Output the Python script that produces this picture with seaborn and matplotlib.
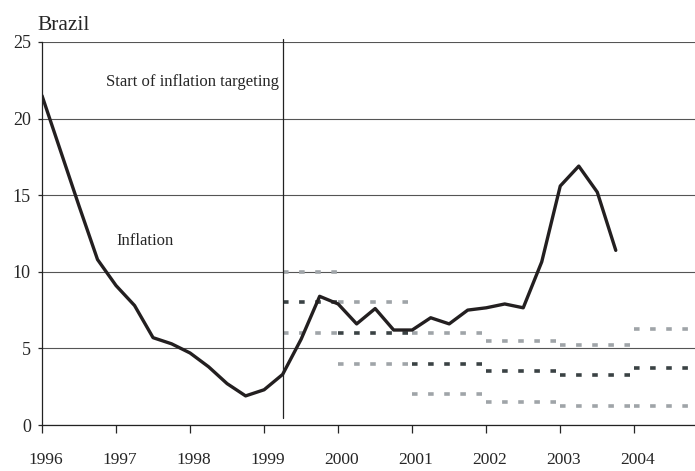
import matplotlib
matplotlib.use("Agg")
import matplotlib.pyplot as plt
import matplotlib.transforms as mtransforms
import seaborn as sns
import numpy as np
import pandas as pd

# quarterly inflation (12-month, %), 1996Q1 .. 2003Q4
quarters = np.arange(32) * 0.25 + 1996.0
inflation = [21.5, 17.9, 14.3, 10.8, 9.1, 7.8, 5.7, 5.3,
             4.7, 3.8, 2.7, 1.9, 2.3, 3.3, 5.6, 8.4,
             7.9, 6.6, 7.6, 6.2, 6.2, 7.0, 6.6, 7.5,
             7.65, 7.9, 7.65, 10.65, 15.6, 16.9, 15.2, 11.4]

# inflation targets and tolerance bands
seg_start = [1999.25, 2000, 2001, 2002, 2003, 2004]
seg_end = [2000, 2001, 2002, 2003, 2004, 2004.85]
target_center = [8, 6, 4, 3.5, 3.25, 3.75]
target_upper = [10, 8, 6, 5.5, 5.25, 6.25]
target_lower = [6, 4, 2, 1.5, 1.25, 1.25]

year_ticks = list(range(1996, 2005))
y_ticks = [0, 5, 10, 15, 20, 25]
it_start = 1999.26

sns.set_style("white")
plt.rcParams['font.family'] = ['Liberation Serif', 'DejaVu Serif']
plt.rcParams['lines.scale_dashes'] = False

fig = plt.figure(figsize=(6.95, 4.71), dpi=100)
ax = fig.add_axes([42 / 695, 1 - 425 / 471, 653 / 695, 383 / 471])

light = '#9fa4a8'
dark = '#3a4244'
dash = (0, (4.0, 7.6))

for s, e, lo, c, hi in zip(seg_start, seg_end, target_lower, target_center, target_upper):
    ax.plot([s, e], [hi, hi], color=light, lw=2.6, linestyle=dash, dash_capstyle='butt')
    ax.plot([s, e], [lo, lo], color=light, lw=2.6, linestyle=dash, dash_capstyle='butt')
    ax.plot([s, e], [c, c], color=dark, lw=2.6, linestyle=dash, dash_capstyle='butt')

df = pd.DataFrame({'quarter': quarters, 'inflation': inflation})
sns.lineplot(data=df, x='quarter', y='inflation', ax=ax, color='#231f20', lw=2.4)

ax.plot([it_start, it_start], [0.45, 25.2], color='#222222', lw=0.9, clip_on=False)

ax.set_xlim(1996, 2004.82)
ax.set_ylim(0, 25)
ax.set_xticks(year_ticks)
ax.set_yticks(y_ticks)
ax.set_xlabel("")
ax.set_ylabel("")
ax.yaxis.grid(True, color='#555555', lw=0.8)
ax.xaxis.grid(False)
for side in ['top', 'right']:
    ax.spines[side].set_visible(False)
for side in ['left', 'bottom']:
    ax.spines[side].set_color('#222222')
    ax.spines[side].set_linewidth(0.9)
ax.tick_params(axis='x', direction='out', length=5.5, width=0.9, pad=14, labelsize=12.5, bottom=True)
ax.tick_params(axis='y', direction='out', length=3, width=0.9, pad=5, labelsize=13, left=True)

shift = mtransforms.ScaledTranslation(3.5 / 100, 0, fig.dpi_scale_trans)
for lab in ax.get_xticklabels():
    lab.set_transform(lab.get_transform() + shift)

ax.text(1999.2, 22.4, "Start of inflation targeting", ha='right', va='center', fontsize=12)
ax.text(1997.0, 12.0, "Inflation", ha='left', va='center', fontsize=12)
fig.text(37 / 695, 1 - 30 / 471, "Brazil", ha='left', va='baseline', fontsize=15.5)

fig.savefig("out.png", dpi=100)
